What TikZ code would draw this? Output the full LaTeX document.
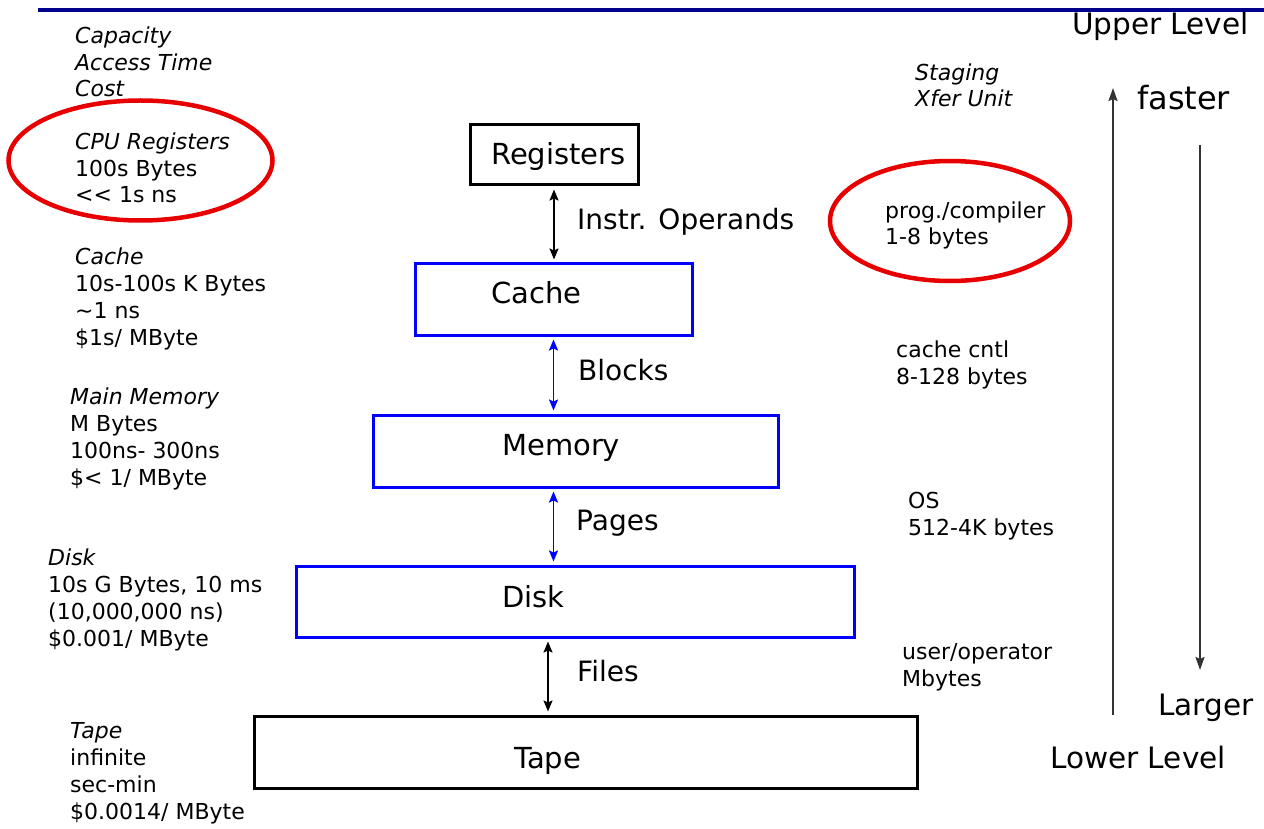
\documentclass[tikz,border=0pt]{standalone}
\usepackage{fontspec}
\setmainfont{DejaVu Sans}
\usetikzlibrary{positioning, arrows.meta}

\definecolor{hiblue}{RGB}{0,0,255}
\definecolor{rulenavy}{RGB}{0,0,140}
\definecolor{ringred}{RGB}{232,0,0}

\begin{document}
\begin{tikzpicture}[
    x=1pt, y=-1pt,
    box/.style={
        draw,
        line width=3pt,
        inner sep=0pt
    },
    bluebox/.style={
        box,
        draw=hiblue
    },
    boxtext/.style={
        anchor=base west,
        inner sep=0pt,
        font=\fontsize{29}{34}\selectfont
    },
    arrow/.style={
        {Stealth[length=11pt,width=9pt,inset=2pt]}-{Stealth[length=11pt,width=9pt,inset=2pt]},
        line width=1.8pt,
        shorten <=3pt,
        shorten >=3pt
    },
    bluearrow/.style={
        arrow,
        hiblue
    },
    unit/.style={
        anchor=base west,
        inner sep=0pt,
        font=\fontsize{28}{33}\selectfont
    },
    info/.style={
        anchor=base west,
        align=left,
        inner sep=0pt,
        font=\fontsize{22}{26.8}\selectfont
    },
    big/.style={
        anchor=base west,
        inner sep=0pt,
        font=\fontsize{29.5}{34}\selectfont
    },
    ring/.style={
        draw=ringred,
        line width=4.5pt
    },
    trend/.style={
        -{Stealth[length=13pt,width=9pt,inset=2pt]},
        line width=2pt,
        black!80
    }
]
\useasboundingbox (0,0) rectangle (1264,829);

% rule at the top of the slide
\draw[rulenavy, line width=3.5pt] (38,10) -- (1264,10);

% the levels
\node[box, minimum width=168pt, minimum height=60pt] (regs) at (554,155) {};
\node[bluebox, minimum width=277pt, minimum height=71pt] (cache) at (553.5,299.5) {};
\node[bluebox, minimum width=405pt, minimum height=72pt] (memory) at (575.5,451) {};
\node[bluebox, minimum width=558pt, minimum height=71pt] (disk) at (575,601.5) {};
\node[box, minimum width=663pt, minimum height=72pt] (tape) at (585.5,752) {};

\node[boxtext] (regstext) at (491,165) {Registers};
\node[boxtext] (cachetext) at (491,303) {Cache};
\node[boxtext] (memorytext) at (502,455) {Memory};
\node[boxtext] (disktext) at (502,607) {Disk};
\node[boxtext] (tapetext) at (514,768) {Tape};

% transfers between levels
\coordinate (filesx) at (548,0);
\draw[arrow] (regs.south) -- (regs.south |- cache.north);
\draw[bluearrow] (cache.south) -- (cache.south |- memory.north);
\draw[bluearrow] (memory.south -| cache.south) -- (disk.north -| cache.south);
\draw[arrow] (disk.south -| filesx) -- (tape.north -| filesx);

\node[unit] (instr) at (577,230) {Instr. Operands};
\node[unit] (blocks) at (578,380) {Blocks};
\node[unit] (pages) at (576,530) {Pages};
\node[unit] (files) at (577,681) {Files};

% left column (base = last line)
\node[info] (legend) at (75,97) {\itshape Capacity\\\itshape Access Time\\\itshape Cost};
\node[info] (regsinfo) at (75,203) {\itshape CPU Registers\\100s Bytes\\<{}< 1s ns};
\node[info] (cacheinfo) at (75,345) {\itshape Cache\\10s-100s K Bytes\\\textasciitilde1 ns\\\$1s/ MByte};
\node[info] (memoryinfo) at (70,485) {\itshape Main Memory\\M Bytes\\100ns- 300ns\\\$< 1/ MByte};
\node[info] (diskinfo) at (48,646) {\itshape Disk\\10s G Bytes, 10 ms\\(10,000,000 ns)\\\$0.001/ MByte};
\node[info] (tapeinfo) at (70,819) {\itshape Tape\\infinite\\sec-min\\\$0.0014/ MByte};

% right column
\node[info] (staging) at (915,107) {\itshape Staging\\\itshape Xfer Unit};
\node[info] (proginfo) at (885,245) {prog./compiler\\1-8 bytes};
\node[info] (cntlinfo) at (896,384) {cache cntl\\8-128 bytes};
\node[info] (osinfo) at (908,535) {OS\\512-4K bytes};
\node[info] (userinfo) at (902,686) {user/operator\\Mbytes};

% highlights
\draw[ring] (140.5,160.5) ellipse [x radius=132, y radius=60];
\draw[ring] (950,221) ellipse [x radius=120, y radius=60];

% direction of the hierarchy
\node[big] (upper) at (1072,35) {Upper Level};
\node[big, font=\fontsize{32}{36}\selectfont] (faster) at (1137,110) {faster};
\node[big] (larger) at (1158,715) {Larger};
\node[big] (lower) at (1050,768) {Lower Level};

\coordinate (upfoot) at (1113,715);
\coordinate (uptip) at (1113,88);
\coordinate (downfoot) at (1200,145);
\coordinate (downtip) at (1200,670);
\draw[trend] (upfoot) -- (uptip);
\draw[trend] (downfoot) -- (downtip);

\end{tikzpicture}
\end{document}
